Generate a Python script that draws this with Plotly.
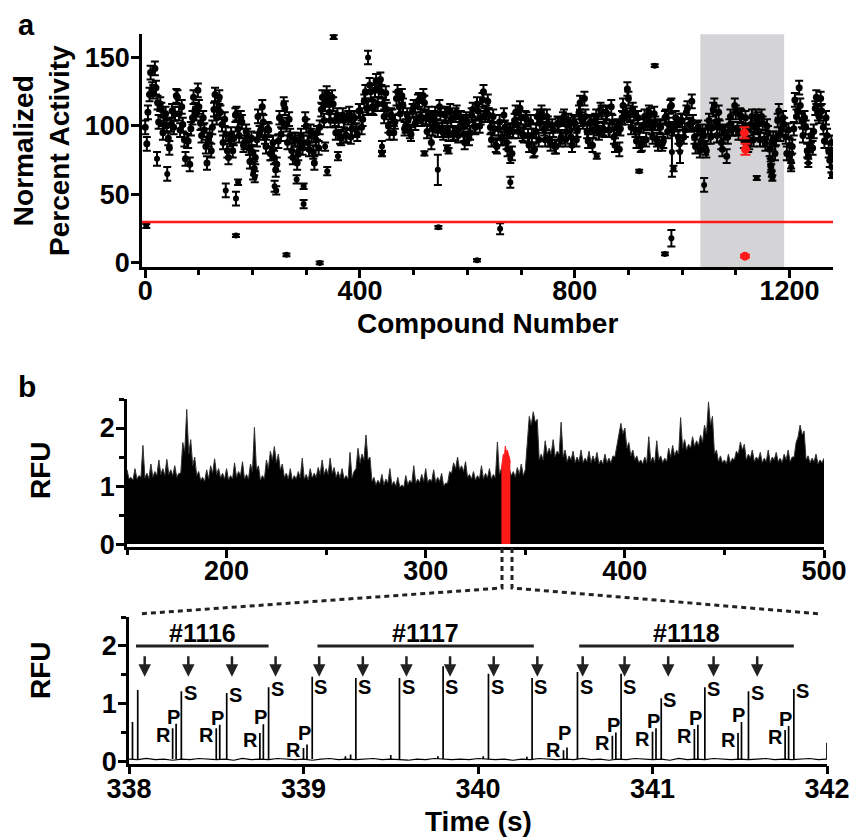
import plotly.graph_objects as go

# ---------------- Panel a data ----------------
band_compound = list(range(0, 1281, 5))
band_activity = [
    99, 110, 139, 125, 128, 103, 112, 101, 100, 84,
    111, 109, 121, 97, 101, 76, 89, 98, 121, 109,
    114, 93, 97, 73, 93, 99, 123, 113, 110, 88,
    94, 77, 94, 91, 109, 93, 103, 88, 93, 74,
    81, 77, 107, 97, 103, 85, 97, 80, 77, 72,
    106, 103, 113, 88, 93, 77, 90, 80, 93, 88,
    100, 83, 93, 73, 95, 99, 121, 116, 119, 104,
    116, 95, 104, 91, 104, 93, 109, 98, 106, 94,
    111, 105, 125, 113, 125, 113, 133, 126, 125, 107,
    112, 95, 107, 103, 125, 109, 115, 100, 105, 94,
    114, 105, 119, 105, 117, 96, 105, 98, 109, 97,
    109, 95, 109, 94, 105, 95, 110, 98, 103, 88,
    103, 95, 112, 99, 111, 106, 125, 110, 108, 90,
    98, 85, 103, 91, 99, 83, 97, 96, 110, 96,
    106, 93, 105, 86, 93, 83, 107, 102, 107, 90,
    102, 87, 97, 85, 101, 92, 107, 96, 101, 86,
    102, 97, 117, 103, 107, 89, 103, 96, 107, 95,
    110, 97, 109, 97, 103, 86, 100, 98, 115, 110,
    120, 99, 109, 89, 97, 87, 107, 102, 108, 92,
    102, 87, 99, 89, 107, 101, 115, 98, 101, 87,
    104, 97, 113, 101, 103, 85, 99, 88, 93, 82,
    104, 99, 115, 93, 99, 83, 95, 92, 107, 98,
    110, 95, 107, 89, 97, 88, 107, 99, 105, 90,
    102, 87, 95, 71, 91, 91, 111, 98, 101, 80,
    86, 85, 119, 111, 115, 93, 99, 78, 93, 96,
    121, 107, 111, 89, 93, 75, 79,
]
band2_compound = list(range(3, 1281, 5))
band2_activity = [
    87, 123, 127, 142, 117, 116, 95, 109, 91, 101,
    99, 122, 109, 114, 90, 89, 72, 106, 112, 126,
    102, 106, 85, 90, 82, 112, 106, 121, 101, 105,
    82, 90, 82, 108, 98, 106, 86, 96, 84, 91,
    69, 90, 95, 114, 92, 98, 80, 88, 68, 89,
    94, 116, 101, 105, 82, 90, 73, 88, 84, 105,
    88, 96, 81, 90, 84, 112, 104, 124, 110, 121,
    104, 108, 92, 108, 93, 106, 92, 106, 97, 111,
    99, 118, 113, 130, 114, 126, 116, 134, 116, 124,
    100, 108, 95, 120, 114, 122, 98, 108, 96, 111,
    102, 118, 107, 122, 106, 109, 88, 106, 100, 114,
    97, 108, 97, 111, 94, 108, 93, 106, 94, 105,
    91, 108, 100, 116, 100, 119, 108, 118, 99, 107,
    86, 98, 91, 108, 88, 96, 80, 104, 101, 113,
    94, 106, 93, 103, 82, 96, 90, 110, 98, 107,
    90, 100, 85, 102, 90, 105, 90, 104, 92, 103,
    90, 110, 105, 120, 96, 102, 86, 104, 98, 112,
    98, 110, 97, 114, 92, 99, 83, 106, 106, 127,
    108, 112, 97, 106, 86, 100, 90, 110, 99, 109,
    90, 100, 87, 106, 96, 114, 98, 106, 92, 104,
    92, 110, 101, 118, 92, 98, 82, 96, 84, 99,
    92, 112, 103, 110, 88, 96, 78, 100, 98, 115,
    98, 108, 95, 106, 86, 101, 90, 107, 96, 107,
    90, 100, 83, 88, 80, 104, 94, 106, 92, 97,
    74, 98, 107, 128, 104, 106, 82, 86, 84, 113,
    109, 120, 99, 106, 82, 88,
]
BAND_SEM = 5

outlier_compound = [2, 22, 41, 150, 169, 169, 173, 201, 204, 241,
                    244, 263, 282, 295, 295, 325, 335, 339, 351, 359,
                    415, 441, 441, 520, 545, 546, 562, 565, 618, 661,
                    680, 680, 841, 920, 949, 968, 981, 984, 980, 996,
                    1041, 1139, 1165, 1166, 1167, 1168, 1201, 1203, 1235, 1278,
                    1279]
outlier_activity = [27, 76, 65, 53, 47, 20, 59, 65, 63, 56,
                    53, 6, 61, 56, 43, 0, 85, 67, 165, 78,
                    150, 85, 80, 80, 68, 26, 84, 82, 2, 25,
                    76, 59, 78, 67, 144, 6.6, 81, 69, 18, 81,
                    57, 62, 76, 70, 65, 62, 78, 70, 73, 70,
                    64]
outlier_sem = [1.5, 5, 5, 5, 5, 1, 2, 4, 4, 4,
               3, 1, 3, 2, 3, 1, 3, 3, 1.5, 3,
               5, 4, 2, 1.5, 11, 1, 2, 2, 1, 4,
               3, 4, 2, 1, 1, 1, 18, 2, 6, 8,
               5, 1.5, 2, 2, 2, 2, 3, 3, 3, 4,
               2]

hit_compound = [1116, 1117, 1118]
hit_activity = [95, 5, 83]
hit_sem = [4, 1, 4]

threshold = 30
highlight_range = [1034, 1190]

# ---------------- Panel b (top) data ----------------
crest_time = list(range(150, 501, 2))
crest_rfu = [
    1.28, 1.15, 1.30, 1.18, 1.70, 1.22, 1.38, 1.25, 1.45, 1.30,
    1.46, 1.28, 1.35, 1.22, 1.75, 2.32, 1.80, 1.50, 1.25, 1.15,
    1.28, 1.35, 1.47, 1.30, 1.22, 1.30, 1.18, 1.40, 1.25, 1.42,
    1.20, 1.38, 2.01, 1.35, 1.18, 1.45, 1.60, 1.68, 1.55, 1.38,
    1.22, 1.30, 1.18, 1.25, 1.48, 1.20, 1.30, 1.22, 1.32, 1.45,
    1.30, 1.48, 1.32, 1.25, 1.30, 1.18, 1.58, 1.25, 1.65, 1.55,
    1.88, 1.50, 1.15, 1.10, 1.20, 1.12, 1.30, 1.08, 1.15, 1.02,
    1.18, 1.10, 1.35, 1.12, 1.20, 1.30, 1.12, 1.28, 1.15, 1.22,
    1.05, 1.25, 1.40, 1.50, 1.35, 1.42, 1.20, 1.25, 1.18, 1.35,
    1.22, 1.30, 1.20, 1.76, 1.30, 1.30, 1.30, 1.25, 1.32, 1.38,
    1.28, 2.20, 2.28, 2.15, 1.55, 1.78, 1.65, 1.80, 1.60, 2.10,
    1.62, 1.52, 1.60, 1.50, 1.62, 1.48, 1.60, 1.52, 1.58, 1.45,
    1.55, 1.48, 1.52, 1.70, 2.08, 2.00, 1.75, 1.62, 1.52, 1.45,
    1.50, 1.85, 1.50, 1.78, 1.52, 1.48, 1.65, 1.70, 1.62, 2.18,
    1.80, 1.72, 1.85, 1.78, 1.88, 2.05, 2.45, 2.20, 1.62, 1.52,
    1.45, 1.55, 1.48, 1.60, 1.76, 1.72, 1.55, 1.62, 1.50, 1.58,
    1.48, 1.62, 1.50, 1.58, 1.48, 1.55, 1.62, 1.50, 1.75, 2.05,
    1.95, 1.52, 1.48, 1.55, 1.45, 1.48,
]
trough_time = list(range(151, 500, 2))
trough_rfu = [
    1.12, 1.10, 1.12, 1.15, 1.14, 1.13, 1.15, 1.18, 1.20, 1.18,
    1.20, 1.18, 1.15, 1.22, 1.60, 1.55, 1.35, 1.18, 1.10, 1.08,
    1.12, 1.22, 1.20, 1.14, 1.12, 1.10, 1.12, 1.15, 1.18, 1.12,
    1.12, 1.25, 1.28, 1.10, 1.12, 1.30, 1.45, 1.40, 1.28, 1.15,
    1.12, 1.10, 1.12, 1.14, 1.12, 1.10, 1.14, 1.15, 1.20, 1.20,
    1.20, 1.22, 1.15, 1.14, 1.12, 1.12, 1.14, 1.30, 1.40, 1.45,
    1.45, 1.08, 1.02, 1.04, 1.02, 1.05, 1.02, 1.00, 0.98, 0.98,
    1.02, 1.05, 1.05, 1.06, 1.08, 1.06, 1.08, 1.06, 1.08, 1.00,
    1.05, 1.22, 1.30, 1.28, 1.25, 1.15, 1.12, 1.10, 1.12, 1.12,
    1.14, 1.12, 1.14, 1.20, 1.20, 1.20, 1.18, 1.15, 1.20, 1.18,
    1.70, 2.05, 2.10, 1.45, 1.45, 1.55, 1.55, 1.50, 1.55, 1.50,
    1.42, 1.45, 1.40, 1.42, 1.40, 1.42, 1.40, 1.42, 1.38, 1.38,
    1.40, 1.40, 1.50, 1.85, 1.90, 1.65, 1.52, 1.45, 1.40, 1.38,
    1.40, 1.42, 1.40, 1.45, 1.40, 1.42, 1.50, 1.52, 1.55, 1.65,
    1.62, 1.65, 1.68, 1.70, 1.75, 1.90, 2.05, 1.55, 1.42, 1.40,
    1.38, 1.40, 1.45, 1.55, 1.62, 1.45, 1.48, 1.42, 1.45, 1.40,
    1.42, 1.40, 1.45, 1.42, 1.40, 1.45, 1.42, 1.50, 1.85, 1.88,
    1.45, 1.40, 1.42, 1.38, 1.40,
]
red_time = [338.0, 338.5, 339.0, 339.5, 340.0, 340.5, 341.0, 341.5, 342.0, 342.5]
red_rfu = [1.30, 1.45, 1.55, 1.50, 1.69, 1.58, 1.62, 1.55, 1.50, 1.40]

# ---------------- Panel b (bottom) data ----------------
baseline_time = [round(338 + 0.05 * i, 2) for i in range(81)]
baseline_rfu = [
    0.05, 0.04, 0.06, 0.04, 0.05, 0.03, 0.05, 0.04, 0.06, 0.05,
    0.04, 0.05, 0.03, 0.06, 0.04, 0.05, 0.04, 0.06, 0.05, 0.04,
    0.05, 0.03, 0.05, 0.06, 0.04, 0.05, 0.04, 0.05, 0.06, 0.04,
    0.05, 0.04, 0.03, 0.05, 0.04, 0.06, 0.05, 0.04, 0.05, 0.04,
    0.06, 0.05, 0.04, 0.05, 0.03, 0.05, 0.04, 0.06, 0.05, 0.04,
    0.05, 0.04, 0.06, 0.04, 0.05, 0.03, 0.05, 0.04, 0.06, 0.05,
    0.04, 0.05, 0.03, 0.06, 0.04, 0.05, 0.04, 0.06, 0.05, 0.04,
    0.05, 0.04, 0.05, 0.06, 0.04, 0.05, 0.04, 0.05, 0.06, 0.04,
    0.05,
]
peak_time = [338.02, 338.05, 338.25, 338.27, 338.30, 338.50, 338.52, 338.56, 338.75, 338.77,
             338.80, 339.00, 339.02, 339.05, 339.24, 339.27, 339.30, 339.50, 339.55, 339.77,
             339.80, 340.03, 340.06, 340.28, 340.31, 340.49, 340.51, 340.57, 340.77, 340.79,
             340.82, 341.00, 341.02, 341.05, 341.24, 341.26, 341.30, 341.49, 341.51, 341.55,
             341.76, 341.78, 341.81, 342.00]
peak_rfu = [0.69, 1.24, 0.58, 0.66, 1.22, 0.58, 0.64, 1.19, 0.50, 0.65,
            1.29, 0.24, 0.30, 1.47, 0.10, 0.13, 1.45, 0.12, 1.45, 0.10,
            1.65, 0.10, 1.52, 0.09, 1.45, 0.20, 0.25, 1.55, 0.45, 0.51,
            1.52, 0.52, 0.58, 1.10, 0.57, 0.64, 1.29, 0.50, 0.69, 1.22,
            0.55, 0.62, 1.26, 0.33]
peak_label = ['', '', 'R', 'P', 'S', 'R', 'P', 'S', 'R', 'P',
              'S', 'R', 'P', 'S', '', '', 'S', '', 'S', '',
              'S', '', 'S', '', 'S', 'R', 'P', 'S', 'R', 'P',
              'S', 'R', 'P', 'S', 'R', 'P', 'S', 'R', 'P', 'S',
              'R', 'P', 'S', '']
arrow_time = [338.09, 338.34, 338.59, 338.84, 339.09, 339.34, 339.59, 339.84,
              340.09, 340.34, 340.60, 340.84, 341.09, 341.35, 341.60]
compound_ids = ['#1116', '#1117', '#1118']
compound_start = [338.04, 339.08, 340.58]
compound_end = [338.80, 340.32, 341.81]

# ---------------- styling / page geometry ----------------
W, H = 849, 837
FONT = 'Liberation Sans, Arial, Helvetica, sans-serif'
TICKFONT = dict(family=FONT, size=27, color='black', weight='bold')
BASE = 0.05
BAR_Y = 2.0
LABEL_Y = 2.22
ARROW_TOP = 1.85
ARROW_TIP = 1.47


def px(x):
    return x / W


def py(y):
    return 1 - y / H


fig = go.Figure()

# Panel a
for xs, ys in ((band_compound, band_activity), (band2_compound, band2_activity)):
    fig.add_trace(go.Scatter(
        x=xs, y=ys, mode='markers',
        marker=dict(color='black', size=7),
        error_y=dict(type='constant', value=BAND_SEM, color='black', thickness=2, width=4),
        xaxis='x', yaxis='y', showlegend=False, hoverinfo='skip'))
fig.add_trace(go.Scatter(
    x=outlier_compound, y=outlier_activity, mode='markers',
    marker=dict(color='black', size=6),
    error_y=dict(type='data', array=outlier_sem, color='black', thickness=2, width=4),
    xaxis='x', yaxis='y', showlegend=False, hoverinfo='skip'))
fig.add_trace(go.Scatter(
    x=hit_compound, y=hit_activity, mode='markers',
    marker=dict(color='#ff1a1a', size=9),
    error_y=dict(type='data', array=hit_sem, color='#ff1a1a', thickness=2, width=5),
    xaxis='x', yaxis='y', showlegend=False, hoverinfo='skip'))

# Panel b top: merge crests and troughs in time order
merged = sorted(list(zip(crest_time, crest_rfu)) + list(zip(trough_time, trough_rfu)))
trace_time = [m[0] for m in merged]
trace_rfu = [m[1] for m in merged]
fig.add_trace(go.Scatter(
    x=trace_time, y=trace_rfu, mode='lines',
    line=dict(color='#333333', width=1), fill='tozeroy', fillcolor='black',
    xaxis='x2', yaxis='y2', showlegend=False, hoverinfo='skip'))
fig.add_trace(go.Scatter(
    x=red_time, y=red_rfu, mode='lines',
    line=dict(color='#ff1a1a', width=1), fill='tozeroy', fillcolor='#ff1a1a',
    xaxis='x2', yaxis='y2', showlegend=False, hoverinfo='skip'))

# Panel b bottom
fig.add_trace(go.Scatter(
    x=baseline_time, y=baseline_rfu, mode='lines',
    line=dict(color='black', width=1.2),
    xaxis='x3', yaxis='y3', showlegend=False, hoverinfo='skip'))
pk_x, pk_y = [], []
for t, h in zip(peak_time, peak_rfu):
    pk_x += [t, t, None]
    pk_y += [BASE, h, None]
fig.add_trace(go.Scatter(
    x=pk_x, y=pk_y, mode='lines', line=dict(color='black', width=1.7),
    xaxis='x3', yaxis='y3', showlegend=False, hoverinfo='skip'))

annotations = []
for t, h, lab in zip(peak_time, peak_rfu, peak_label):
    if not lab:
        continue
    if lab == 'S':
        ax_, ay_ = t + 0.05, min(h - 0.03, 1.3)
    elif lab == 'R':
        ax_, ay_ = t - 0.055, max(h - 0.12, 0.2)
    else:
        ax_, ay_ = t - 0.015, max(h + 0.12, 0.5)
    annotations.append(dict(x=ax_, y=ay_, xref='x3', yref='y3', text=lab,
                            showarrow=False, xanchor='center', yanchor='middle',
                            font=dict(family=FONT, size=20, color='black', weight='bold')))

for t in arrow_time:
    annotations.append(dict(x=t, y=ARROW_TIP, ax=t, ay=ARROW_TOP, xref='x3', yref='y3',
                            axref='x3', ayref='y3', text='', showarrow=True,
                            arrowhead=2, arrowsize=1, arrowwidth=2.5, arrowcolor='#222222'))

shapes = []
for cid, t0, t1 in zip(compound_ids, compound_start, compound_end):
    shapes.append(dict(type='line', xref='x3', yref='y3', x0=t0, x1=t1, y0=BAR_Y, y1=BAR_Y,
                       line=dict(color='#222222', width=3)))
    annotations.append(dict(x=(t0 + t1) / 2, y=LABEL_Y, xref='x3', yref='y3', text=cid,
                            showarrow=False, xanchor='center', yanchor='middle',
                            font=dict(family=FONT, size=25, color='black', weight='bold')))

# panel a decorations
shapes.append(dict(type='rect', xref='x', yref='y domain', x0=highlight_range[0], x1=highlight_range[1],
                   y0=0, y1=1, fillcolor='#d4d4d7', line=dict(width=0), layer='below'))
shapes.append(dict(type='line', xref='x domain', yref='y', x0=0, x1=1, y0=threshold, y1=threshold,
                   line=dict(color='#ff1a1a', width=2.5)))

# zoom connector (dotted)
dot = dict(color='#222222', width=3, dash='5px,4px')
shapes.append(dict(type='path', xref='paper', yref='paper',
                   path=f'M {px(502)} {py(548)} L {px(502)} {py(588)} L {px(138)} {py(614)}',
                   line=dot))
shapes.append(dict(type='path', xref='paper', yref='paper',
                   path=f'M {px(512)} {py(548)} L {px(512)} {py(588)} L {px(822)} {py(614)}',
                   line=dot))


def txt(text, x, y, size=28, angle=0):
    return dict(text=text, x=px(x), y=py(y), xref='paper', yref='paper', showarrow=False,
                xanchor='center', yanchor='middle', textangle=angle, align='center',
                font=dict(family=FONT, size=size, color='black', weight='bold'))


annotations += [
    txt('a', 27, 25, 29),
    txt('b', 27, 386, 30),
    txt('Normalized<br>Percent Activity', 42, 151, 28, -90),
    txt('Compound Number', 487, 323, 28),
    txt('RFU', 40, 470, 28, -90),
    txt('RFU', 40, 670, 28, -90),
    txt('Time (s)', 478, 821, 28),
]

axis_common = dict(showline=True, linecolor='black', linewidth=2.5, ticks='outside',
                   tickwidth=2.5, tickcolor='black', ticklen=8, showgrid=False,
                   zeroline=False, tickfont=TICKFONT, automargin=False,
                   ticklabeloverflow='allow')
xcommon = dict(axis_common, ticklabelstandoff=-10)
ycommon = dict(axis_common, ticklabelstandoff=-4)
minor_common = dict(ticks='outside', ticklen=5, tickwidth=2.5, tickcolor='black', showgrid=False)

fig.update_layout(
    width=W, height=H, margin=dict(l=0, r=0, t=0, b=0, autoexpand=False),
    paper_bgcolor='white', plot_bgcolor='white', showlegend=False,
    xaxis=dict(domain=[px(142), px(833)], range=[-6, 1281], anchor='y',
               tickvals=[0, 400, 800, 1200],
               minor=dict(dtick=100, tick0=0, **minor_common), **xcommon),
    yaxis=dict(domain=[py(267.1), py(34.2)], range=[-3, 167], anchor='x',
               tickvals=[0, 50, 100, 150], **ycommon),
    xaxis2=dict(domain=[px(127), px(824)], range=[150, 500], anchor='y2',
                tickvals=[200, 300, 400, 500],
                minor=dict(dtick=50, tick0=0, **minor_common), **xcommon),
    yaxis2=dict(domain=[py(547), py(399)], range=[-0.05, 2.5], anchor='x2',
                tickvals=[0, 1, 2],
                minor=dict(dtick=0.5, tick0=0, **minor_common), **ycommon),
    xaxis3=dict(domain=[px(129), px(827)], range=[338, 342], anchor='y3',
                tickvals=[338, 339, 340, 341, 342], **dict(xcommon, ticklabelstandoff=-9)),
    yaxis3=dict(domain=[py(763.7), py(617)], range=[-0.03, 2.5], anchor='x3',
                tickvals=[0, 1, 2],
                minor=dict(dtick=0.5, tick0=0, **minor_common), **ycommon),
    shapes=shapes,
    annotations=annotations,
)

# the page is exactly the figure: no default body margin, no scrollbars, no mode bar
fig.write_html('out.html', config={'displayModeBar': False},
               post_script="document.body.style.margin='0';document.body.style.overflow='hidden';")
